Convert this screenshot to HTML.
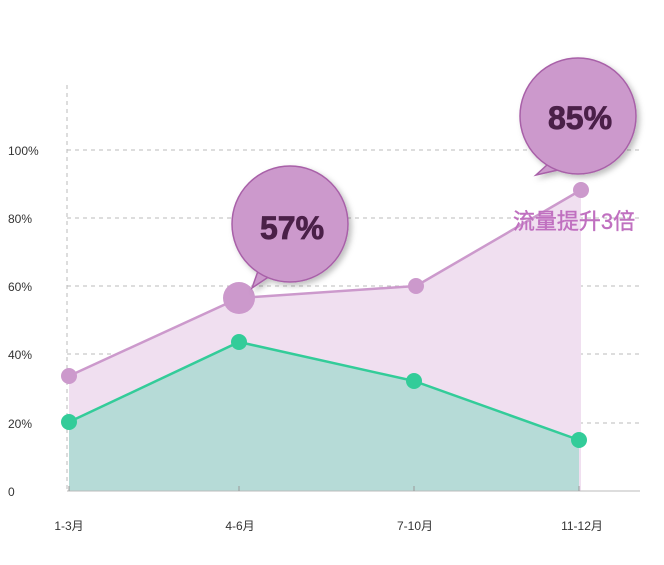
<!DOCTYPE html>
<html><head><meta charset="utf-8"><style>body{margin:0;background:#fff}svg{display:block}</style></head><body>
<svg width="664" height="565" viewBox="0 0 664 565" xmlns="http://www.w3.org/2000/svg">
<defs><filter id="sh" x="-20%" y="-20%" width="150%" height="150%"><feDropShadow dx="3" dy="3" stdDeviation="3" flood-color="#000" flood-opacity="0.25"/></filter></defs>
<g stroke="#bbb" stroke-dasharray="4,4" stroke-width="1">
<line x1="67" y1="150" x2="640" y2="150"/><line x1="67" y1="218" x2="640" y2="218"/><line x1="67" y1="286" x2="640" y2="286"/><line x1="67" y1="354" x2="640" y2="354"/><line x1="67" y1="423" x2="640" y2="423"/>
<line x1="67" y1="85" x2="67" y2="491"/>
</g>
<polygon points="69,376 239,298 416,286 581,190 581,491 69,491" fill="#f0dff0"/>
<polygon points="69,422 239,342 414,381 579,440 579,491 69,491" fill="#b6dbd7"/>
<polyline points="69,376 239,298 416,286 581,190" fill="none" stroke="#cc99cc" stroke-width="2.5"/>
<polyline points="69,422 239,342 414,381 579,440" fill="none" stroke="#33cc99" stroke-width="2.5"/>
<line x1="67" y1="491" x2="640" y2="491" stroke="#bbb"/>
<g stroke="#999"><line x1="69" y1="486" x2="69" y2="491"/><line x1="239" y1="486" x2="239" y2="491"/><line x1="414" y1="486" x2="414" y2="491"/><line x1="579" y1="486" x2="579" y2="491"/></g>
<g fill="#cc99cc"><circle cx="69" cy="376" r="8"/><circle cx="239" cy="298" r="16"/><circle cx="416" cy="286" r="8"/><circle cx="581" cy="190" r="8"/></g>
<g fill="#33cc99"><circle cx="69" cy="422" r="8"/><circle cx="239" cy="342" r="8"/><circle cx="414" cy="381" r="8"/><circle cx="579" cy="440" r="8"/></g>
<g filter="url(#sh)" fill="#cc99cc" stroke="#a860a8" stroke-width="1.5">
<path d="M258,271 L252,288 L270,276 Z"/><circle cx="290" cy="224" r="58"/>
<path d="M548,164 L536,175 L558,170 Z"/><circle cx="578" cy="116" r="58"/>
</g>
<g font-family="Liberation Sans, sans-serif" font-weight="bold" font-size="32" fill="#4a2048" stroke="#4a2048" stroke-width="0.8" text-anchor="middle">
<text x="292" y="239">57%</text><text x="580" y="129">85%</text></g>
<text x="574" y="229" text-anchor="middle" font-family="Liberation Sans, Noto Sans CJK SC, sans-serif" font-size="22" fill="#c070c0" stroke="#c070c0" stroke-width="0.4">流量提升3倍</text>
<g font-family="Liberation Sans, sans-serif" font-size="12" fill="#333">
<text x="8" y="155">100%</text><text x="8" y="223">80%</text><text x="8" y="291">60%</text><text x="8" y="359">40%</text><text x="8" y="428">20%</text><text x="8" y="496">0</text>
</g>
<g font-family="Liberation Sans, Noto Sans CJK SC, sans-serif" font-size="12" fill="#333" text-anchor="middle">
<text x="69" y="530">1-3月</text><text x="240" y="530">4-6月</text><text x="415" y="530">7-10月</text><text x="582" y="530">11-12月</text>
</g>
</svg>
</body></html>
